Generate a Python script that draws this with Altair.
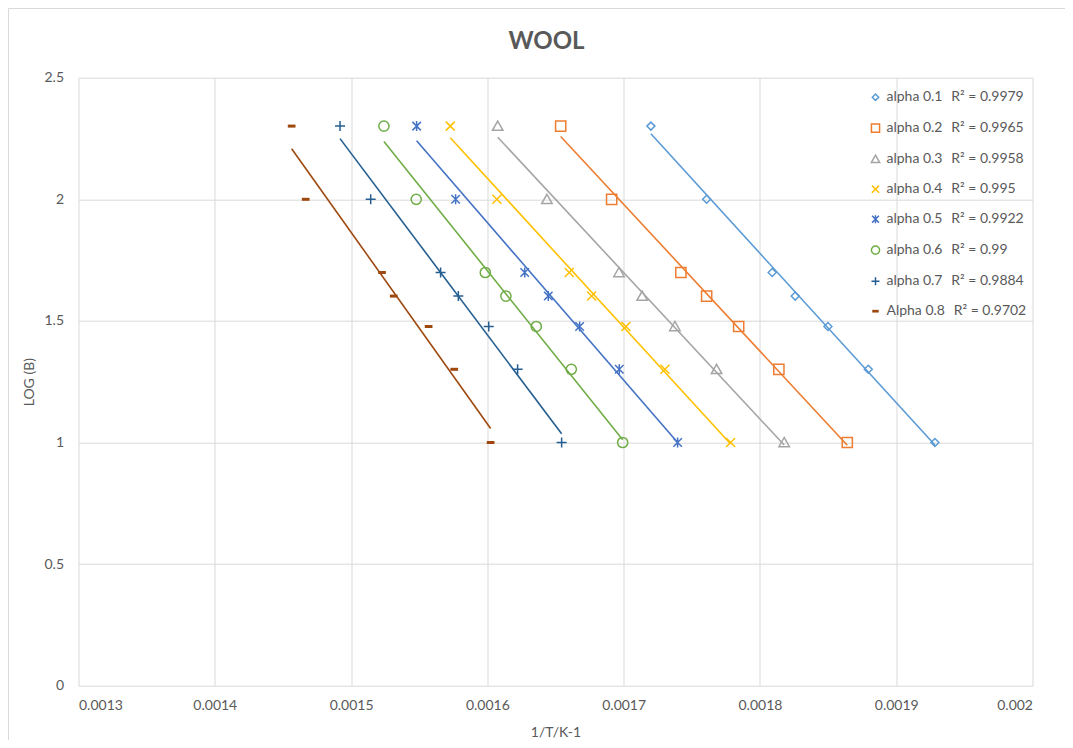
import altair as alt
import pandas as pd

# ---------------- data ----------------
series_names = ["alpha 0.1", "alpha 0.2", "alpha 0.3", "alpha 0.4",
                "alpha 0.5", "alpha 0.6", "alpha 0.7", "Alpha 0.8"]
r_squared = ["0.9979", "0.9965", "0.9958", "0.995",
             "0.9922", "0.99", "0.9884", "0.9702"]
colors = ["#5B9BD5", "#ED7D31", "#A5A5A5", "#FFC000",
          "#4472C4", "#70AD47", "#255E91", "#9E480E"]

log_b = [2.301, 2.0, 1.699, 1.602, 1.477, 1.301, 1.0]

inv_t_a1 = [0.0017200, 0.0017609, 0.0018090, 0.0018259, 0.0018499, 0.0018795, 0.0019284]
inv_t_a2 = [0.0016538, 0.0016912, 0.0017420, 0.0017609, 0.0017844, 0.0018139, 0.0018641]
inv_t_a3 = [0.0016076, 0.0016437, 0.0016966, 0.0017136, 0.0017376, 0.0017682, 0.0018178]
inv_t_a4 = [0.0015728, 0.0016070, 0.0016601, 0.0016765, 0.0017017, 0.0017303, 0.0017785]
inv_t_a5 = [0.0015481, 0.0015767, 0.0016274, 0.0016447, 0.0016677, 0.0016968, 0.0017396]
inv_t_a6 = [0.0015241, 0.0015478, 0.0015985, 0.0016136, 0.0016359, 0.0016616, 0.0016993]
inv_t_a7 = [0.0014919, 0.0015144, 0.0015657, 0.0015787, 0.0016010, 0.0016222, 0.0016545]
inv_t_a8 = [0.0014564, 0.0014667, 0.0015227, 0.0015313, 0.0015569, 0.0015757, 0.0016024]

x_ticks = [0.0013, 0.0014, 0.0015, 0.0016, 0.0017, 0.0018, 0.0019, 0.002]
y_ticks = [0, 0.5, 1, 1.5, 2, 2.5]

# marker shapes (diamond, square, triangle, x, asterisk, circle, plus, dash)
shapes = [
    "M-0.8,0L0,-0.8L0.8,0L0,0.8Z",
    "M-1.02,-1.02L1.02,-1.02L1.02,1.02L-1.02,1.02Z",
    "M0,-1L1.05,0.85L-1.05,0.85Z",
    "M-0.9,-0.9L0.9,0.9M-0.9,0.9L0.9,-0.9",
    "M-0.85,-0.85L0.85,0.85M-0.85,0.85L0.85,-0.85M0,-1L0,1",
    "M1.02,0A1.02,1.02,0,1,1,-1.02,0A1.02,1.02,0,1,1,1.02,0Z",
    "M-1,0L1,0M0,-1L0,1",
    "M-0.62,-0.15L0.62,-0.15L0.62,0.15L-0.62,0.15Z",
]

# ---------------- table ----------------
all_x = [inv_t_a1, inv_t_a2, inv_t_a3, inv_t_a4, inv_t_a5, inv_t_a6, inv_t_a7, inv_t_a8]
labels = [f"{n}\u2002\u2009R\u00b2 = {r}" for n, r in zip(series_names, r_squared)]
rows = []
for lab, xs in zip(labels, all_x):
    for xv, yv in zip(xs, log_b):
        rows.append({"series": lab, "inv_t": xv, "log_b": yv})
df = pd.DataFrame(rows)

W, H = 954, 608
GREY = "#595959"
FONT = "Lato"

x_enc = alt.X("inv_t:Q",
              scale=alt.Scale(domain=[0.0013, 0.002], nice=False, zero=False),
              axis=alt.Axis(values=x_ticks, format="~g", title="1/T/K-1",
                            labelPadding=13, titlePadding=13))
y_enc = alt.Y("log_b:Q",
              scale=alt.Scale(domain=[0, 2.5], nice=False),
              axis=alt.Axis(values=y_ticks, format="~g", title="LOG (B)",
                            labelPadding=15, titlePadding=7))

legend = alt.Legend(title=None, orient="none", legendX=790, legendY=12.5,
                    labelFont=FONT, labelFontSize=14, labelColor=GREY,
                    labelLimit=400, symbolSize=64, symbolStrokeWidth=1.5,
                    rowPadding=16, labelOffset=4, padding=0)

base = alt.Chart(df)

# trend lines: stroke scale listed in reverse order so that its (hidden)
# legend is not merged with the marker legend
lines = base.transform_regression(
    "inv_t", "log_b", groupby=["series"]
).mark_line(strokeWidth=1.6).encode(
    x=x_enc, y=y_enc,
    stroke=alt.Stroke("series:N",
                      scale=alt.Scale(domain=labels[::-1], range=colors[::-1]),
                      legend=None),
)

points = base.mark_point(filled=False, size=100, strokeWidth=1.5, opacity=1).encode(
    x=x_enc, y=y_enc,
    color=alt.Color("series:N", scale=alt.Scale(domain=labels, range=colors), legend=legend),
    shape=alt.Shape("series:N", scale=alt.Scale(domain=labels, range=shapes), legend=legend),
)

frame = alt.Chart(pd.DataFrame({"k": [0]})).mark_rect(
    filled=False, stroke="#D9D9D9", strokeWidth=1
).encode(
    x=alt.value(-70), x2=alt.value(W + 200),
    y=alt.value(-69.2), y2=alt.value(H + 200),
)

chart = alt.layer(frame, lines, points).properties(
    width=W, height=H,
    background="white",
    padding={"left": 70.5, "top": 69.7, "right": 32.5, "bottom": 54},
    autosize=alt.AutoSizeParams(type="none"),
    title=alt.Title("WOOL", font=FONT, fontSize=24, fontWeight="bold",
                    color=GREY, anchor="middle", frame="group", dx=-9,
                    offset=0, dy=65, baseline="alphabetic"),
).configure_axis(
    labelFont=FONT, labelFontSize=14, labelColor=GREY,
    titleFont=FONT, titleFontSize=14, titleColor=GREY, titleFontWeight="normal",
    gridColor="#D9D9D9", gridWidth=1, domain=False, ticks=False,
).configure_view(strokeWidth=0)

chart.save("out.html", embed_options={"renderer": "svg", "actions": False})
